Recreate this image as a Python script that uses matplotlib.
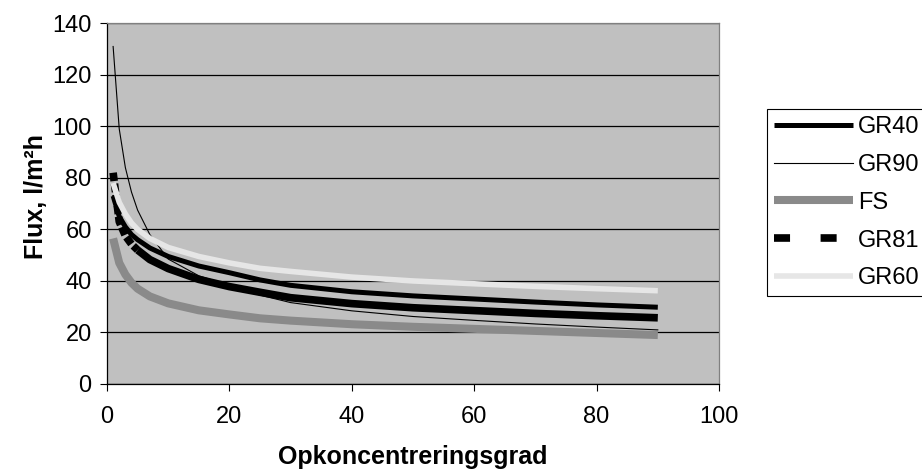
import matplotlib
matplotlib.use("Agg")
import matplotlib.pyplot as plt
from matplotlib.lines import Line2D

plt.rcParams["font.family"] = ["Liberation Sans", "DejaVu Sans"]

# Flux vs. concentration factor for the five membranes
x = [1, 2, 3, 4, 5, 7, 10, 15, 20, 25, 30, 40, 50, 60, 70, 80, 90]
gr40 = [73, 65, 61, 58, 56, 52.8, 49.5, 45.8, 43.2, 40.4, 38.3, 35.8, 34.2, 33.0, 31.8, 30.7, 29.8]
gr90 = [131, 99, 84, 74.5, 67.5, 58, 48.5, 42, 38.3, 34.5, 31.6, 28.4, 26.2, 24.7, 23.3, 22.1, 21.0]
fs = [56.5, 47, 42.5, 39.3, 37, 34, 31.3, 28.6, 27, 25.5, 24.6, 23.2, 22.2, 21.4, 20.6, 19.8, 19.0]
gr81 = [82, 63, 57.5, 54.3, 52, 48.3, 44.8, 40.6, 37.8, 35.6, 33.5, 31.2, 29.6, 28.5, 27.4, 26.5, 25.7]
gr60 = [78, 70.5, 66, 62.5, 60, 56.5, 53, 49.5, 47, 44.9, 43.7, 41.5, 40, 38.9, 37.9, 37, 36.2]
labels = ["GR40", "GR90", "FS", "GR81", "GR60"]

W, H = 922, 475
fig = plt.figure(figsize=(W / 100, H / 100), dpi=100)
ax = fig.add_axes([107 / W, 1 - 384 / H, (719 - 107) / W, (384 - 23.3) / H])
ax.set_facecolor("#C0C0C0")

fs_col, gr60_col = "#8A8A8A", "#E6E6E6"
ax.plot(x, gr40, color="black", lw=3.6, solid_capstyle="butt", zorder=3)
ax.plot(x, gr90, color="black", lw=0.8, zorder=3)
ax.plot(x, fs, color=fs_col, lw=5.8, solid_capstyle="butt", zorder=3)
# GR81: broken up near the start, solid further out
ax.plot(x[:5], gr81[:5], color="black", lw=5.5, dashes=(1.1, 0.35), zorder=3)
ax.plot(x[4:], gr81[4:], color="black", lw=5.5, solid_capstyle="butt", zorder=3)
ax.plot(x, gr60, color=gr60_col, lw=4.0, solid_capstyle="butt", zorder=3)

ax.set_xlim(0, 100)
ax.set_ylim(0, 140)
ax.set_xticks(range(0, 101, 20))
ax.set_yticks(range(0, 141, 20))
ax.grid(axis="y", color="black", lw=0.9)
ax.grid(axis="x", visible=False)
ax.set_axisbelow(True)
for side in ["left", "bottom"]:
    ax.spines[side].set_color("black")
    ax.spines[side].set_linewidth(0.9)
for side in ["top", "right"]:
    ax.spines[side].set_color("#808080")
    ax.spines[side].set_linewidth(0.9)
ax.tick_params(direction="out", length=5, width=0.8, labelsize=17, colors="black")
ax.tick_params(axis="y", pad=6)
ax.tick_params(axis="x", pad=11)

fig.text(36 / W, 1 - 197 / H, "Flux, l/m²h", rotation=90, ha="center", va="center",
         fontsize=18, fontweight="bold")
fig.text(413 / W, 1 - 457 / H, "Opkoncentreringsgrad", ha="center", va="center",
         fontsize=18, fontweight="bold")

handles = [
    Line2D([], [], color="black", lw=3.6, solid_capstyle="butt"),
    Line2D([], [], color="black", lw=0.8),
    Line2D([], [], color=fs_col, lw=5.8, solid_capstyle="butt"),
    Line2D([], [], color="black", lw=5.5, dashes=(2.1, 4.0)),
    Line2D([], [], color=gr60_col, lw=4.0, solid_capstyle="butt"),
]
leg = fig.legend(handles, labels, loc="upper left", bbox_to_anchor=(766.7 / W, 1 - 109 / H),
                 bbox_transform=fig.transFigure, fontsize=17, frameon=True, fancybox=False,
                 framealpha=1, edgecolor="black", borderpad=0.3, borderaxespad=0,
                 handlelength=3.35, handletextpad=0.22, labelspacing=0.67)
leg.get_frame().set_linewidth(0.8)

fig.savefig("out.png", dpi=100)
